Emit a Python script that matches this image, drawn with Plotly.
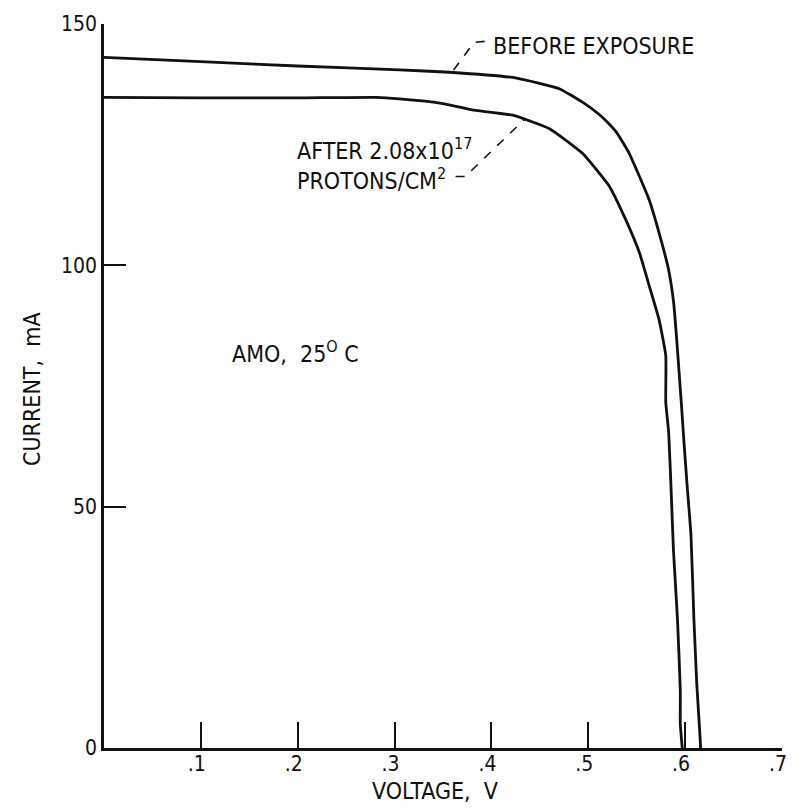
import numpy as np
import plotly.graph_objects as go

# I-V characteristic of the solar cell, AM0 illumination at 25 C
voltage_before = [0.000, 0.100, 0.200, 0.305, 0.357, 0.426, 0.470, 0.494, 0.511, 0.520,
                  0.529, 0.542, 0.563, 0.576, 0.583, 0.588, 0.591, 0.596, 0.599, 0.602,
                  0.606, 0.609, 0.612, 0.615, 0.616]
current_before = [143.1, 142.2, 141.3, 140.5, 140.0, 138.8, 136.6, 133.8, 131.3, 129.6,
                  127.6, 123.3, 113.5, 104.6, 99.0, 92.5, 85.4, 71.6, 62.8, 54.5,
                  44.2, 27.0, 13.3, 3.6, 0.0]

voltage_after = [0.000, 0.100, 0.200, 0.281, 0.305, 0.340, 0.367, 0.380, 0.422, 0.460,
                 0.494, 0.522, 0.539, 0.553, 0.563, 0.573, 0.580, 0.580, 0.583, 0.586,
                 0.588, 0.592, 0.595, 0.595, 0.597]
current_after = [134.8, 134.7, 134.7, 134.8, 134.5, 133.8, 132.8, 132.2, 131.1, 128.3,
                 123.2, 116.3, 109.3, 102.5, 95.7, 88.8, 81.3, 71.6, 65.4, 51.0,
                 40.7, 27.0, 12.0, 5.0, 0.0]

x_ticks = [0.1, 0.2, 0.3, 0.4, 0.5, 0.6, 0.7]
x_tick_text = [".1", ".2", ".3", ".4", ".5", ".6", ".7"]
y_ticks = [0, 50, 100, 150]
y_tick_text = ["0", "50", "100", "150"]

FONT = "DejaVu Sans Condensed, Liberation Sans Narrow, Arial Narrow, sans-serif"
INK = "#111111"

fig = go.Figure()
for v, i in ((voltage_before, current_before), (voltage_after, current_after)):
    fig.add_trace(go.Scatter(x=v, y=i, mode="lines",
                             line=dict(color=INK, width=2.8, shape="spline", smoothing=0.4),
                             hoverinfo="skip", showlegend=False))

# dashed leaders from the labels to their curves
v_b = 0.359
i_b = float(np.interp(v_b, voltage_before, current_before))
v_a = 0.434
i_a = float(np.interp(v_a, voltage_after, current_after))
fig.add_shape(type="path", xref="x", yref="y",
              path=f"M 0.393 146.4 L 0.382 146.2 L {v_b} {i_b}",
              line=dict(color=INK, width=1.6, dash="dash"))
fig.add_shape(type="path", xref="x", yref="y",
              path=f"M 0.363 118.4 L 0.373 118.4 L {v_a} {i_a}",
              line=dict(color=INK, width=1.6, dash="dash"))

labels = [
    (0.400, 145.4, "BEFORE EXPOSURE"),
    (0.197, 124.2, "AFTER 2.08x10<sup>17</sup>"),
    (0.197, 117.8, "PROTONS/CM<sup>2</sup>"),
    (0.130, 82.1, "AMO,  25<sup>O</sup> C"),
]
for x, y, t in labels:
    fig.add_annotation(x=x, y=y, xref="x", yref="y", text=t, showarrow=False,
                       xanchor="left", yanchor="middle",
                       font=dict(family=FONT, size=23, color=INK))

fig.add_annotation(x=-0.106, y=0.496, xref="paper", yref="paper", text="CURRENT,  mA",
                   textangle=-90, showarrow=False, xanchor="center", yanchor="middle",
                   font=dict(family=FONT, size=23, color=INK))
fig.add_annotation(x=0.488, y=-0.059, xref="paper", yref="paper", text="VOLTAGE,  V",
                   showarrow=False, xanchor="center", yanchor="middle",
                   font=dict(family=FONT, size=23, color=INK))

fig.update_xaxes(range=[0, 0.7], tickvals=x_ticks, ticktext=x_tick_text,
                 ticks="inside", ticklen=26, tickwidth=2, tickcolor=INK,
                 showline=True, linewidth=2.5, linecolor=INK, showgrid=False, zeroline=False,
                 ticklabelshift=-4, ticklabelstandoff=-5,
                 tickfont=dict(family=FONT, size=21, color=INK))
fig.update_yaxes(range=[0, 150], tickvals=y_ticks, ticktext=y_tick_text,
                 ticks="inside", ticklen=22, tickwidth=2, tickcolor=INK,
                 showline=True, linewidth=2.5, linecolor=INK, showgrid=False, zeroline=False,
                 tickfont=dict(family=FONT, size=21, color=INK))

fig.update_layout(width=799, height=809, plot_bgcolor="white", paper_bgcolor="white",
                  margin=dict(l=104, r=17, t=20, b=61))

fig.write_html("out.html")
